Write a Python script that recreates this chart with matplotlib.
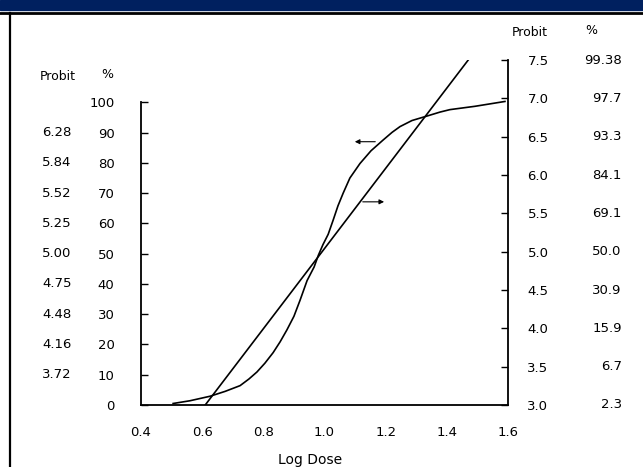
import matplotlib
matplotlib.use("Agg")
from matplotlib import pyplot as plt
from matplotlib.patches import Rectangle
from matplotlib.lines import Line2D

# values
log_dose_ticks = [0.4, 0.6, 0.8, 1.0, 1.2, 1.4, 1.6]
pct_ticks = [0, 10, 20, 30, 40, 50, 60, 70, 80, 90, 100]
left_probit_labels = ['', '3.72', '4.16', '4.48', '4.75', '5.00', '5.25', '5.52', '5.84', '6.28', '']
probit_ticks = [3.0, 3.5, 4.0, 4.5, 5.0, 5.5, 6.0, 6.5, 7.0, 7.5]
right_pct_labels = ['2.3', '6.7', '15.9', '30.9', '50.0', '69.1', '84.1', '93.3', '97.7', '99.38']

# cumulative percent response (left scale)
curve_dose = [0.505, 0.560, 0.626, 0.675, 0.724, 0.753, 0.779, 0.805, 0.832, 0.855,
              0.877, 0.900, 0.920, 0.943, 0.966, 0.980, 0.995, 1.012, 1.028, 1.044,
              1.061, 1.083, 1.116, 1.152, 1.191, 1.221, 1.247, 1.286, 1.339, 1.378,
              1.410, 1.492, 1.590]
curve_pct = [0.5, 1.4, 2.9, 4.5, 6.4, 8.6, 10.9, 13.8, 17.3, 20.9,
             24.8, 29.3, 34.6, 41.1, 45.6, 49.5, 53.0, 56.4, 61.0, 65.8,
             70.0, 75.0, 79.8, 84.0, 87.5, 90.1, 92.0, 94.0, 95.6, 96.8,
             97.6, 98.7, 100.3]

# probit line (right scale)
line_dose = [0.61, 1.47]
line_probit = [3.0, 7.5]

W, H = 643, 467
fig = plt.figure(figsize=(W / 100, H / 100), dpi=100)
plt.rcParams['font.family'] = ['DejaVu Sans']

# scan frame: navy band, black rule, left border
fig.patches.append(Rectangle((0, 1 - 10 / H), 1, 10 / H, transform=fig.transFigure,
                             color='#00205f', zorder=0))
fig.add_artist(Line2D([0, 1], [1 - 12.5 / H] * 2, transform=fig.transFigure,
                      color='black', lw=2.0))
fig.add_artist(Line2D([9.5 / W] * 2, [0, 1 - 12.5 / H], transform=fig.transFigure,
                      color='black', lw=1.6))

ax = fig.add_axes([141 / W, 1 - 405 / H, 367 / W, 345 / H])
ax2 = ax.twinx()

ax.set_xlim(0.4, 1.6)
ax.set_ylim(0, 114)
ax2.set_ylim(3.0, 7.5)

for a in (ax, ax2):
    a.spines['top'].set_visible(False)
    for s in a.spines.values():
        s.set_linewidth(1.3)
ax.spines['right'].set_visible(False)
ax2.spines['left'].set_visible(False)
ax2.spines['bottom'].set_visible(False)
ax.spines['left'].set_bounds(0, 100)

ax.plot(curve_dose, curve_pct, color='black', lw=1.2)
ax2.plot(line_dose, line_probit, color='black', lw=1.2)

ax.set_xticks(log_dose_ticks)
ax.set_xticklabels([f'{v:.1f}' for v in log_dose_ticks])
ax.tick_params(axis='x', length=0, pad=15, labelsize=9.5)

ax.set_yticks(pct_ticks)
ax.set_yticklabels([str(v) for v in pct_ticks])
ax.tick_params(axis='y', direction='in', length=5, width=1, pad=19, labelsize=9.5)

ax2.set_yticks(probit_ticks)
ax2.set_yticklabels([f'{v:.1f}' for v in probit_ticks])
ax2.tick_params(axis='y', direction='in', length=5, width=1, pad=14, labelsize=9.5)

for p, lab in zip(pct_ticks, left_probit_labels):
    if lab:
        ax.text(-0.229, p, lab, transform=ax.get_yaxis_transform(),
                ha='center', va='center', fontsize=9.5)
for p, lab in zip(probit_ticks, right_pct_labels):
    ax2.text(1.31, p, lab, transform=ax2.get_yaxis_transform(),
             ha='right', va='center', fontsize=9.5)

# arrows telling which scale each curve uses
ax.annotate('', xy=(1.09, 87), xytext=(1.175, 87),
            arrowprops=dict(arrowstyle='-|>', color='black', lw=0.8,
                            mutation_scale=7))
ax2.annotate('', xy=(1.204, 5.65), xytext=(1.116, 5.65),
             arrowprops=dict(arrowstyle='-|>', color='black', lw=0.8,
                             mutation_scale=7))

fig.text(58 / W, 1 - 77 / H, 'Probit', ha='center', va='center', fontsize=9)
fig.text(107 / W, 1 - 75 / H, '%', ha='center', va='center', fontsize=9)
fig.text(530 / W, 1 - 33 / H, 'Probit', ha='center', va='center', fontsize=9)
fig.text(591 / W, 1 - 31 / H, '%', ha='center', va='center', fontsize=9)
fig.text(310 / W, 1 - 460 / H, 'Log Dose', ha='center', va='center', fontsize=10)

fig.savefig('out.png', dpi=100)
